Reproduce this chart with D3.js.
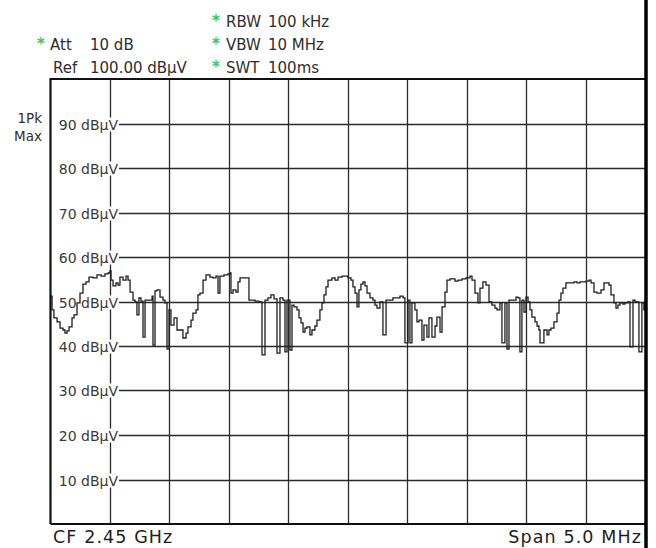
<!DOCTYPE html>
<html>
<head>
<meta charset="utf-8">
<script src="https://cdn.jsdelivr.net/npm/d3@7"></script>
<style>
  body { margin: 0; background: #fff; }
  svg { display: block; font-family: "DejaVu Sans", Verdana, sans-serif; }
</style>
</head>
<body>
<div id="chart"></div>
<script>
// analyzer settings
const centerMHz = 2450;
const spanMHz = 5;
const refLevel = 100;
const levelTicks = [90, 80, 70, 60, 50, 40, 30, 20, 10];
const settingsLeft = [
    { star: true, key: "Att", value: "10 dB" },
    { star: false, key: "Ref", value: "100.00 dBµV" },
];
const settingsRight = [
    { key: "RBW", value: "100 kHz" },
    { key: "VBW", value: "10 MHz" },
    { key: "SWT", value: "100ms" },
];
const traceLabel = ["1Pk", "Max"];

// trace: offset from start frequency (kHz) and level (dBµV)
const traceKHz = [
    4, 13, 29, 55, 80, 105, 122, 139, 156, 181, 198, 223, 248, 273, 299, 324, 357, 391, 425, 458,
    484, 500, 509, 526, 551, 568, 584, 610, 635, 652, 669, 694, 711, 727, 744, 761, 778, 795, 828, 854,
    862, 879, 896, 921, 946, 963, 980, 997, 1013, 1039, 1064, 1089, 1114, 1140, 1156, 1182, 1198, 1224, 1240, 1257,
    1283, 1308, 1341, 1367, 1392, 1409, 1425, 1459, 1493, 1510, 1518, 1535, 1560, 1577, 1594, 1627, 1653, 1669, 1695, 1720,
    1753, 1779, 1804, 1829, 1854, 1880, 1905, 1930, 1955, 1972, 1989, 2014, 2031, 2048, 2073, 2090, 2107, 2124, 2140, 2157,
    2182, 2199, 2224, 2241, 2266, 2283, 2300, 2317, 2334, 2367, 2393, 2418, 2452, 2477, 2502, 2527, 2544, 2561, 2578, 2594,
    2611, 2628, 2645, 2662, 2687, 2712, 2729, 2746, 2771, 2796, 2822, 2855, 2880, 2914, 2939, 2965, 2981, 3007, 3023, 3040,
    3065, 3082, 3099, 3124, 3141, 3166, 3183, 3208, 3234, 3250, 3276, 3293, 3318, 3335, 3360, 3402, 3427, 3461, 3494, 3528,
    3545, 3570, 3595, 3612, 3637, 3663, 3688, 3713, 3738, 3755, 3780, 3797, 3822, 3839, 3856, 3890, 3915, 3932, 3948, 3965,
    3982, 3999, 4016, 4033, 4049, 4075, 4092, 4108, 4117, 4133, 4150, 4176, 4192, 4209, 4234, 4260, 4277, 4293, 4310, 4335,
    4369, 4403, 4428, 4453, 4478, 4504, 4529, 4546, 4571, 4596, 4630, 4655, 4680, 4697, 4714, 4739, 4756, 4772, 4789, 4815,
    4831, 4857, 4874, 4899, 4916, 4932, 4949, 4974, 4991, 5000,
];
const traceLevel = [
    51.2, 48.1, 46.3, 45.4, 44.0, 43.6, 42.9, 43.4, 44.3, 46.3, 47.0, 49.7, 51.9, 53.9, 54.4, 55.5, 55.3, 56.0, 55.7, 56.2,
    56.4, 56.9, 54.8, 53.5, 54.2, 53.7, 55.5, 54.8, 55.7, 54.8, 52.1, 50.3, 49.9, 47.0, 50.8, 50.1, 42.0, 50.3, 50.3, 51.2,
    40.2, 52.4, 52.6, 51.0, 50.3, 49.7, 39.3, 48.1, 44.7, 46.3, 43.6, 43.6, 41.8, 42.9, 44.3, 45.8, 47.4, 48.1, 51.5, 51.9,
    54.8, 56.0, 55.5, 55.3, 55.7, 51.9, 55.7, 56.0, 56.2, 56.4, 51.9, 52.6, 52.1, 54.4, 55.3, 55.3, 55.3, 50.3, 50.3, 50.1,
    49.9, 38.0, 50.3, 50.8, 51.5, 50.6, 38.4, 50.8, 50.3, 38.7, 50.3, 39.1, 49.2, 48.8, 48.1, 46.3, 45.2, 43.1, 44.0, 44.3,
    42.5, 43.6, 44.5, 45.8, 48.1, 49.7, 51.5, 53.3, 54.8, 55.3, 54.8, 55.5, 55.7, 55.7, 55.3, 54.8, 53.3, 51.9, 48.8, 52.6,
    53.9, 54.4, 53.5, 51.9, 50.8, 50.3, 49.2, 48.5, 49.9, 42.5, 50.3, 50.3, 50.8, 50.8, 51.2, 50.8, 40.7, 50.3, 40.7, 49.7,
    48.1, 45.4, 45.8, 41.3, 44.7, 42.0, 46.3, 42.0, 44.5, 46.5, 43.1, 48.8, 52.1, 54.8, 55.1, 54.6, 54.8, 55.1, 55.3, 55.7,
    54.8, 51.9, 49.7, 53.0, 54.4, 53.7, 49.9, 49.2, 48.5, 48.1, 49.7, 40.7, 49.7, 39.3, 50.3, 50.3, 51.0, 50.8, 38.7, 50.3,
    47.6, 51.0, 49.9, 48.1, 46.5, 45.4, 44.5, 43.6, 40.7, 40.7, 43.6, 42.5, 43.6, 44.0, 45.4, 47.4, 50.3, 51.9, 53.0, 54.2,
    54.2, 54.4, 54.2, 54.4, 54.4, 54.6, 54.8, 54.2, 52.1, 51.9, 52.6, 54.2, 54.2, 53.7, 51.5, 49.7, 48.5, 49.2, 49.7, 49.4,
    49.7, 49.9, 39.8, 50.3, 49.9, 49.9, 38.7, 49.7, 48.1, 50.3,
];

const width = 656;
const height = 548;
const plot = { left: 50.5, right: 645, top: 79, bottom: 524 };
const startMHz = centerMHz - spanMHz / 2;

const svg = d3.select("#chart")
    .append("svg")
    .attr("width", width)
    .attr("height", height);

const xScale = d3.scaleLinear()
    .domain([startMHz, startMHz + spanMHz])
    .range([plot.left, plot.right]);

const yScale = d3.scaleLinear()
    .domain([0, refLevel])
    .range([plot.bottom, plot.top]);

// vertical grid, one line per division
const xDivs = d3.range(1, 10).map((i) => startMHz + i * spanMHz / 10);
svg.append("g")
    .selectAll("line")
    .data(xDivs)
    .join("line")
    .attr("x1", (d) => Math.round(xScale(d)) + 0.5)
    .attr("x2", (d) => Math.round(xScale(d)) + 0.5)
    .attr("y1", plot.top)
    .attr("y2", plot.bottom)
    .attr("stroke", "#2b2b2b")
    .attr("stroke-width", 1.3);

// horizontal grid, starting after the labels
const labelEnd = 118;
svg.append("g")
    .selectAll("line")
    .data(levelTicks)
    .join("line")
    .attr("x1", labelEnd + 1)
    .attr("x2", plot.right)
    .attr("y1", (d) => Math.round(yScale(d)) + 0.5)
    .attr("y2", (d) => Math.round(yScale(d)) + 0.5)
    .attr("stroke", "#2b2b2b")
    .attr("stroke-width", 1.3);

// level labels sit on a white box that breaks the first vertical line
const tickLabels = svg.append("g");
levelTicks.forEach((d) => {
    const y = Math.round(yScale(d)) + 0.5;
    tickLabels.append("rect")
        .attr("x", 56)
        .attr("y", y - 7)
        .attr("width", labelEnd - 56 + 1)
        .attr("height", 14)
        .attr("fill", "#fff");
    tickLabels.append("text")
        .attr("x", labelEnd)
        .attr("y", y + 5)
        .attr("text-anchor", "end")
        .attr("font-size", 14)
        .attr("fill", "#3a3a3a")
        .text(`${d} dBµV`);
});

// trace
const trace = traceKHz.map((k, i) => ({ f: startMHz + k / 1000, level: traceLevel[i] }));
const line = d3.line()
    .x((d) => xScale(d.f))
    .y((d) => yScale(d.level))
    .curve(d3.curveStepAfter);

svg.append("path")
    .datum(trace)
    .attr("d", line)
    .attr("fill", "none")
    .attr("stroke", "#1e1e1e")
    .attr("stroke-width", 1.3)
    .attr("stroke-linejoin", "miter");

// frame
svg.append("path")
    .attr("d", `M${plot.left},${plot.bottom}V${plot.top}H${plot.right}`)
    .attr("fill", "none")
    .attr("stroke", "#111")
    .attr("stroke-width", 2.2);
svg.append("line")
    .attr("x1", plot.left)
    .attr("x2", plot.right)
    .attr("y1", plot.bottom)
    .attr("y2", plot.bottom)
    .attr("stroke", "#111")
    .attr("stroke-width", 2);
svg.append("line")
    .attr("x1", plot.right + 1)
    .attr("x2", plot.right + 1)
    .attr("y1", 0)
    .attr("y2", height)
    .attr("stroke", "#000")
    .attr("stroke-width", 3.5);

// header settings
const header = svg.append("g").attr("font-size", 15).attr("fill", "#2e2e2e");
settingsLeft.forEach((s, i) => {
    const y = 50 + i * 23;
    if (s.star) {
        header.append("text").attr("x", 37).attr("y", y - 1)
            .attr("fill", "#35c853").attr("font-size", 15).attr("font-weight", "bold").text("*");
    }
    header.append("text").attr("x", i === 0 ? 50 : 53).attr("y", y).text(s.key);
    header.append("text").attr("x", 90).attr("y", y).text(s.value);
});
settingsRight.forEach((s, i) => {
    const y = 27 + i * 23;
    header.append("text").attr("x", 212).attr("y", y - 1)
        .attr("fill", "#35c853").attr("font-size", 15).attr("font-weight", "bold").text("*");
    header.append("text").attr("x", 226).attr("y", y).text(s.key);
    header.append("text").attr("x", 268).attr("y", y).text(s.value);
});

// trace mode label
svg.append("g")
    .selectAll("text")
    .data(traceLabel)
    .join("text")
    .attr("x", 42)
    .attr("y", (d, i) => 123 + i * 18)
    .attr("text-anchor", "end")
    .attr("font-size", 13.5)
    .attr("fill", "#2e2e2e")
    .text((d) => d);

// footer
const footer = svg.append("g").attr("font-size", 17.5).attr("fill", "#1e1e1e").attr("letter-spacing", 1.1);
footer.append("text").attr("x", 53).attr("y", 543).text(`CF ${(centerMHz / 1000).toFixed(2)} GHz`);
footer.append("text").attr("x", 642).attr("y", 543).attr("text-anchor", "end")
    .text(`Span ${spanMHz.toFixed(1)} MHz`);
</script>
</body>
</html>
